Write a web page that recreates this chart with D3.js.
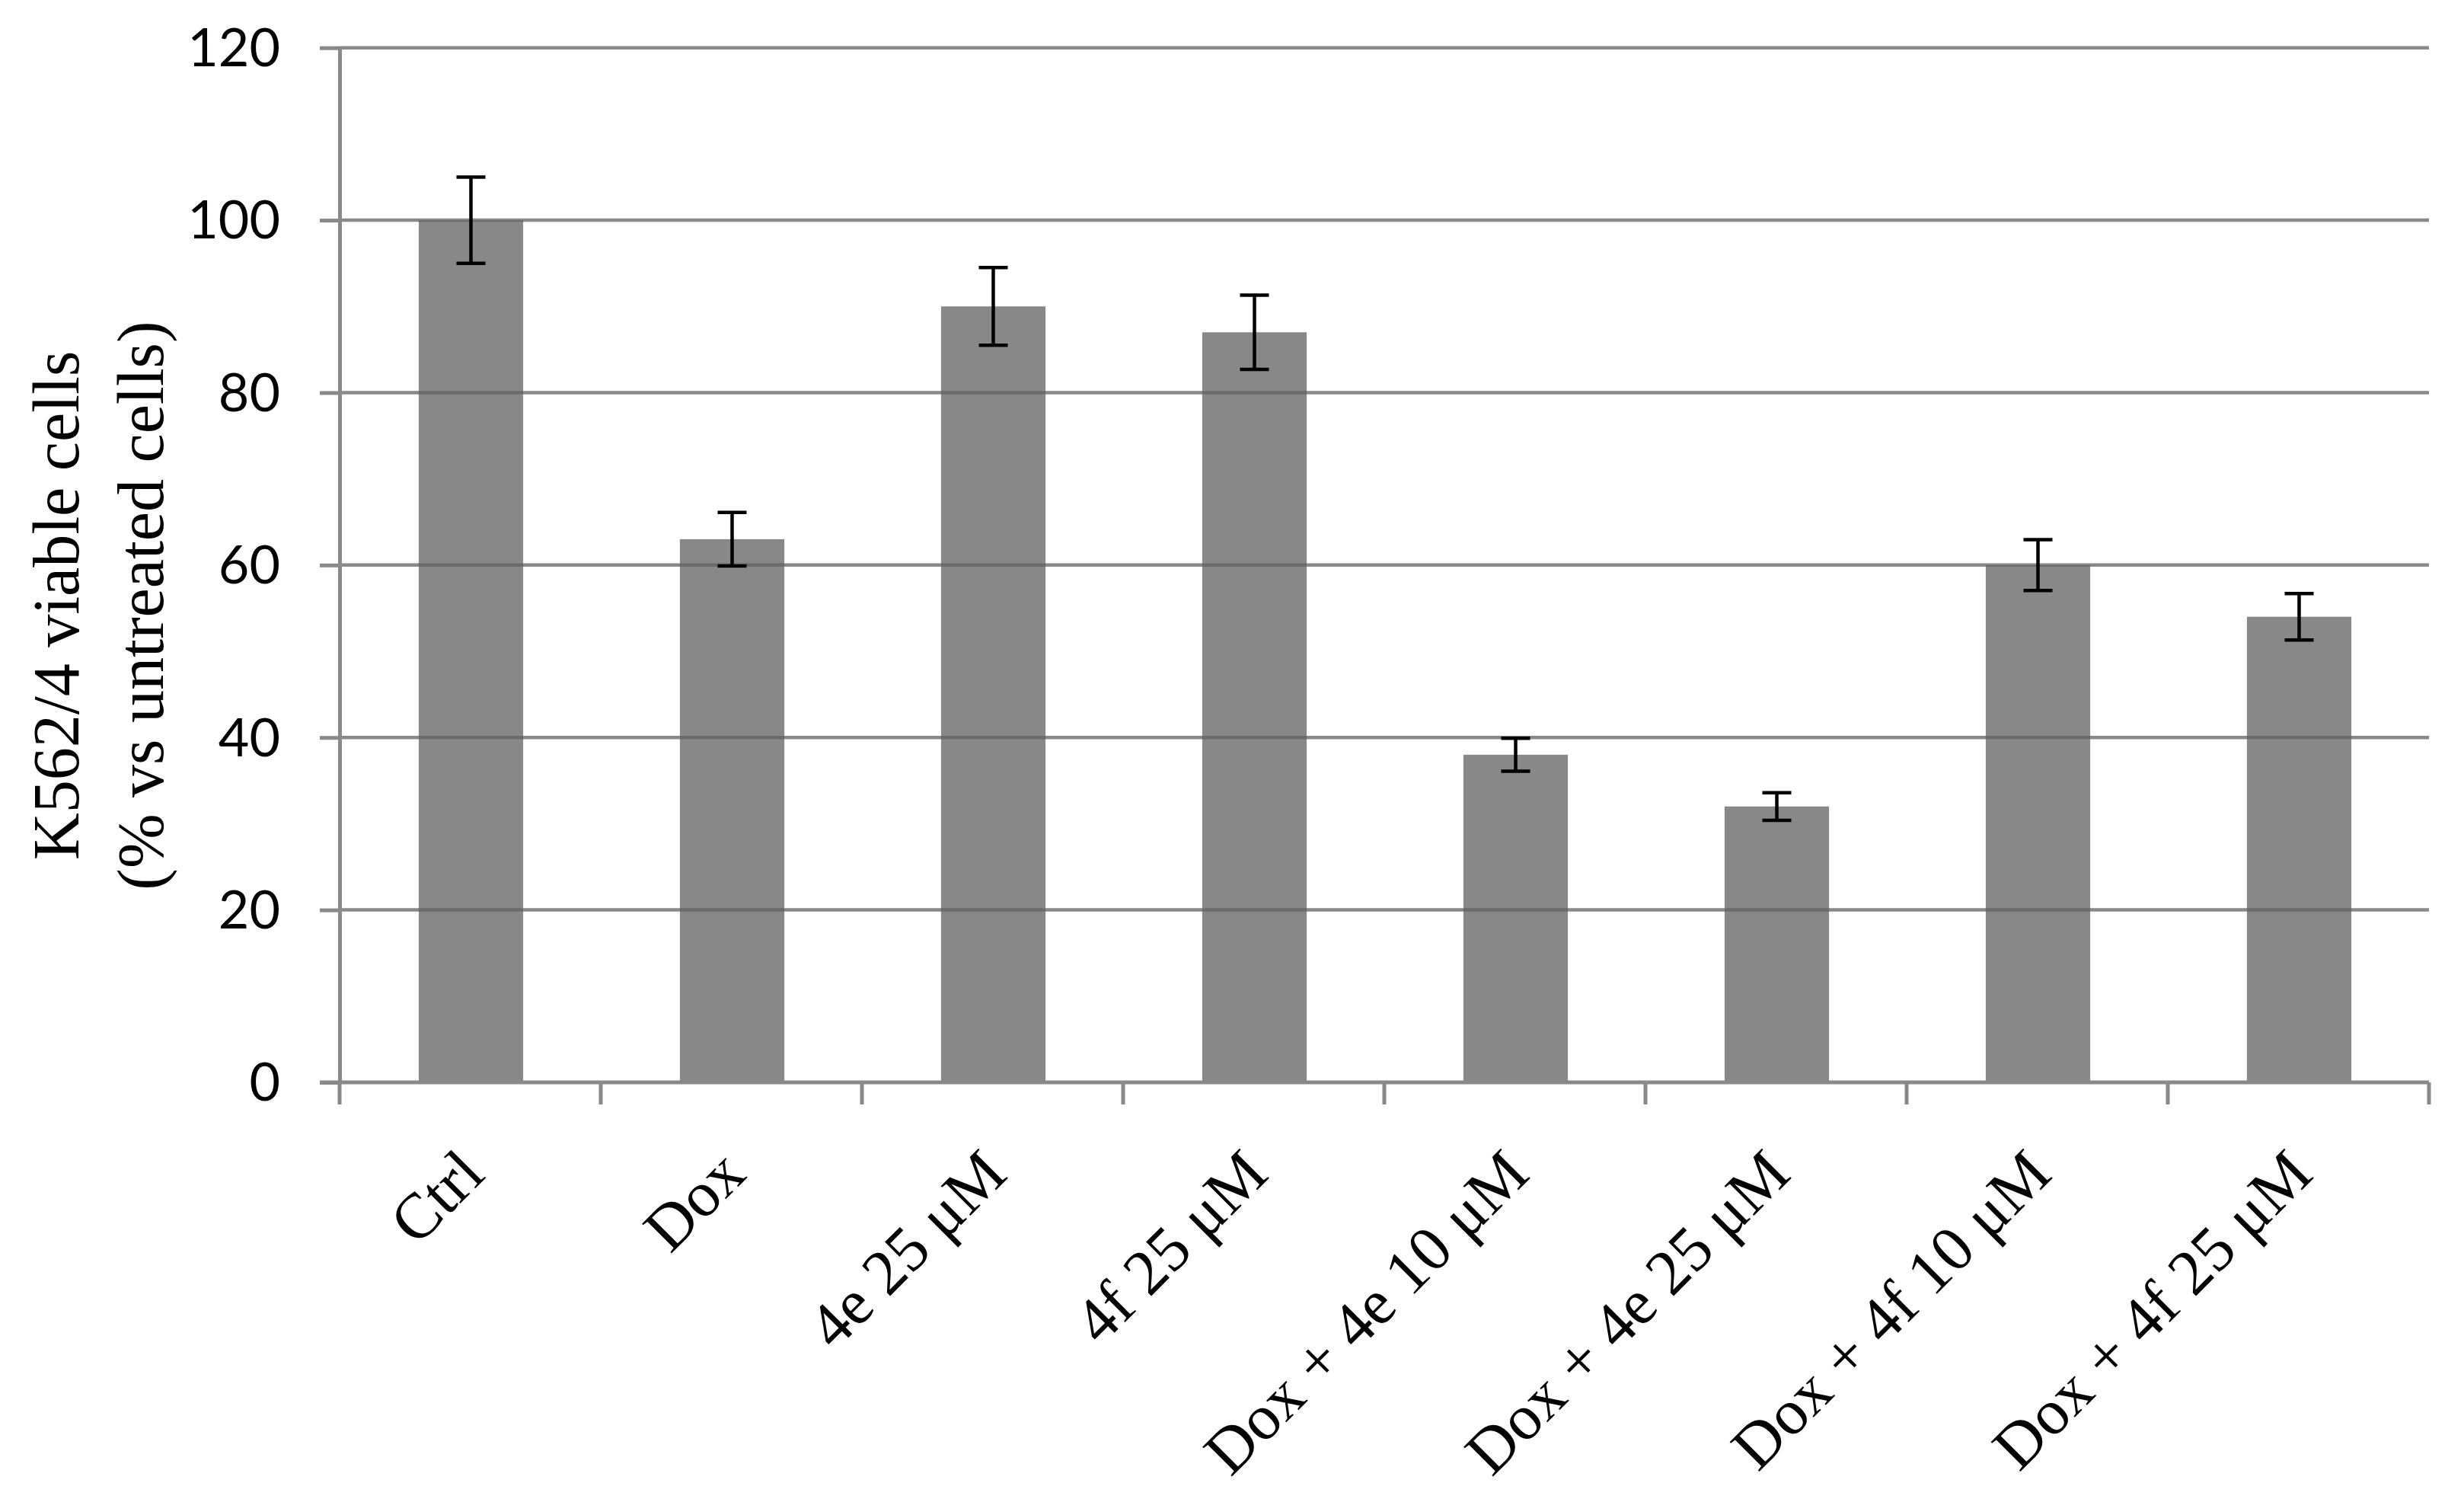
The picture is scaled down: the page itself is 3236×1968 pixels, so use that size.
<!DOCTYPE html>
<html>
<head>
<meta charset="utf-8">
<script src="https://cdn.jsdelivr.net/npm/d3@7"></script>
<style>
  html, body { margin: 0; padding: 0; background: #fff; }
  svg { display: block; }
</style>
</head>
<body>
<svg id="chart" width="3236" height="1968"></svg>
<script>
const categories = ["Ctrl", "Dox", "4e 25 μM", "4f 25 μM", "Dox + 4e 10 μM", "Dox + 4e 25 μM", "Dox + 4f 10 μM", "Dox + 4f 25 μM"];
const values = [100, 63, 90, 87, 38, 32, 60, 54];
const errors = [5, 3.1, 4.5, 4.3, 1.9, 1.6, 2.95, 2.7];
const yTicks = [0, 20, 40, 60, 80, 100, 120];
const yTitleLines = ["K562/4 viable cells", "(% vs untreated cells)"];

(function () {
const svg = d3.select("#chart");
const plotLeft = 446, plotRight = 3190, plotTop = 62.7, plotBottom = 1421;
const axisColor = "#898989";

const x = d3.scaleBand().domain(categories).range([plotLeft, plotRight]).padding(0);
const y = d3.scaleLinear().domain([0, 120]).range([plotBottom, plotTop]);

const barW = x.bandwidth() * 0.4;

// bars
svg.append("g").selectAll("rect").data(categories).join("rect")
  .attr("x", (d) => x(d) + x.bandwidth() / 2 - barW / 2 + 1)
  .attr("width", barW)
  .attr("y", (d, i) => y(values[i]))
  .attr("height", (d, i) => y(0) - y(values[i]))
  .attr("fill", "#888888");

// gridlines (drawn over bars, semi-transparent)
svg.append("g").selectAll("line").data(yTicks.filter(t => t > 0)).join("line")
  .attr("x1", plotLeft).attr("x2", plotRight)
  .attr("y1", d => y(d)).attr("y2", d => y(d))
  .attr("stroke", "rgb(98,98,98)").attr("stroke-opacity", 0.75)
  .attr("stroke-width", 4.5);

// y axis
const yAxis = d3.axisLeft(y).tickValues(yTicks).tickSize(26).tickPadding(52).tickSizeOuter(0);
const gy = svg.append("g").attr("transform", `translate(${plotLeft},0)`).call(yAxis);
gy.select(".domain").attr("stroke", axisColor).attr("stroke-width", 5);
gy.selectAll(".tick line").attr("stroke", axisColor).attr("stroke-width", 5);
gy.selectAll(".tick text")
  .attr("font-family", "Lato, 'Open Sans', sans-serif")
  .attr("font-size", 70)
  .attr("fill", "#000")
  .attr("dy", "0.34em");

// x axis line and ticks
svg.append("line")
  .attr("x1", plotLeft - 26).attr("x2", plotRight)
  .attr("y1", plotBottom).attr("y2", plotBottom)
  .attr("stroke", axisColor).attr("stroke-width", 5);
const boundaries = categories.map(c => x(c)).concat([x(categories[categories.length - 1]) + x.bandwidth()]);
svg.append("g").selectAll("line").data(boundaries).join("line")
  .attr("x1", d => d).attr("x2", d => d)
  .attr("y1", plotBottom).attr("y2", plotBottom + 29)
  .attr("stroke", axisColor).attr("stroke-width", 5);

// x labels
svg.append("g").selectAll("text").data(categories).join("text")
  .attr("transform", d => `translate(${x(d) + x.bandwidth() / 2 + 22},1545) rotate(-45)`)
  .attr("text-anchor", "end")
  .attr("font-family", "'Liberation Serif', 'Times New Roman', serif")
  .attr("font-size", 84)
  .attr("fill", "#000")
  .text(d => d);

// error bars
const eb = svg.append("g").attr("stroke", "#000").attr("stroke-width", 4.5);
categories.forEach((c, i) => {
  const cx = x(c) + x.bandwidth() / 2 + 1;
  const yt = y(values[i] + errors[i]), yb = y(values[i] - errors[i]);
  eb.append("line").attr("x1", cx).attr("x2", cx).attr("y1", yt).attr("y2", yb);
  eb.append("line").attr("x1", cx - 19).attr("x2", cx + 19).attr("y1", yt).attr("y2", yt);
  eb.append("line").attr("x1", cx - 19).attr("x2", cx + 19).attr("y1", yb).attr("y2", yb);
});

// y title
const titleX = [103, 214];
yTitleLines.forEach((t, i) => {
  svg.append("text")
    .attr("transform", `translate(${titleX[i]},795) rotate(-90)`)
    .attr("text-anchor", "middle")
    .attr("font-family", "'Liberation Serif', 'Times New Roman', serif")
    .attr("font-size", 86)
    .attr("fill", "#000")
    .text(t);
});
})();
</script>
</body>
</html>
